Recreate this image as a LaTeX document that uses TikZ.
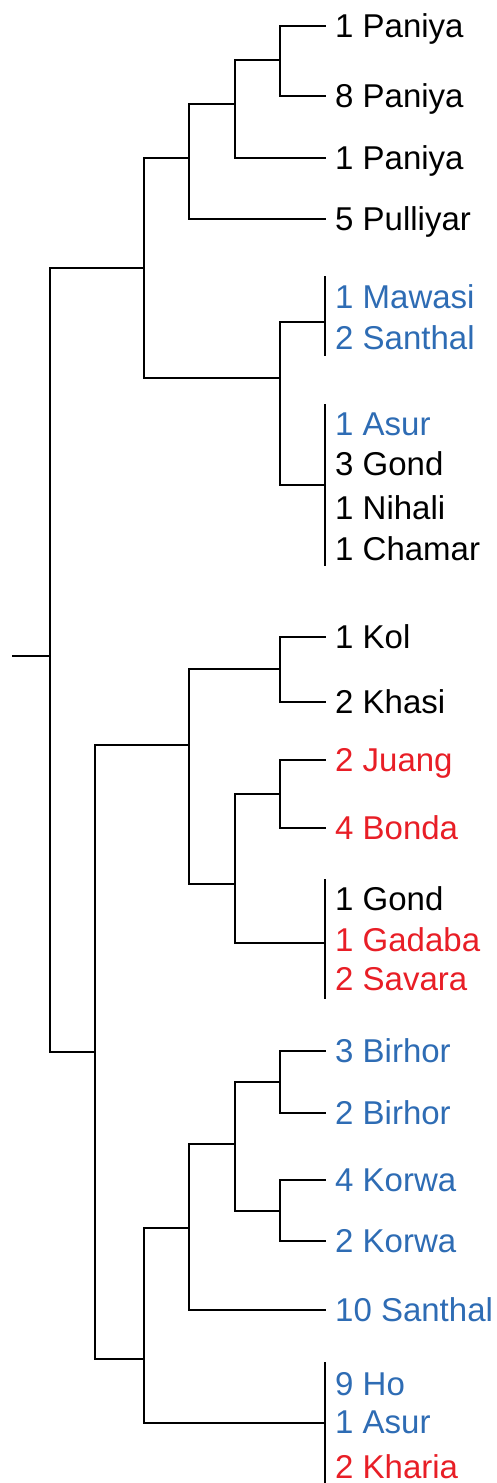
\documentclass[tikz,border=0pt]{standalone}
\usepackage{fontspec}
\setmainfont{Liberation Sans}
\definecolor{tblue}{RGB}{46,108,180}
\definecolor{tred}{RGB}{232,30,38}
\begin{document}
\begin{tikzpicture}[x=1pt,y=-1pt,
  br/.style={line width=2pt, line cap=rect, line join=miter},
  leaf/.style={anchor=west, inner xsep=10pt, inner ysep=0pt, text height=23.5pt, text depth=0pt, font=\fontsize{33}{37}\selectfont},
  bl/.style={leaf, text=tblue},
  rd/.style={leaf, text=tred}]
\useasboundingbox (0,0) rectangle (496,1483);
% internal nodes
\coordinate (stub) at (13,656);
\coordinate (R) at (50,656);
\coordinate (D) at (144,268);
\coordinate (C) at (189,158);
\coordinate (B) at (235,104);
\coordinate (A) at (280,60);
\coordinate (E) at (280,378);
\coordinate (F) at (95,1052);
\coordinate (G) at (189,745);
\coordinate (H) at (280,669);
\coordinate (I) at (235,884);
\coordinate (J) at (280,794);
\coordinate (K) at (144,1359);
\coordinate (L) at (189,1228);
\coordinate (M) at (235,1144);
\coordinate (N) at (280,1082);
\coordinate (O) at (280,1211);
% bars
\coordinate (b1) at (325,322); \coordinate (b1t) at (325,277); \coordinate (b1b) at (325,355);
\coordinate (b2) at (325,485); \coordinate (b2t) at (325,405); \coordinate (b2b) at (325,565);
\coordinate (b3) at (325,943); \coordinate (b3t) at (325,880); \coordinate (b3b) at (325,998);
\coordinate (b4) at (325,1423); \coordinate (b4t) at (325,1363); \coordinate (b4b) at (325,1490);
% leaves
\node[leaf] (p1) at (325,26) {1 Paniya};
\node[leaf] (p8) at (325,96) {8 Paniya};
\node[leaf] (p1b) at (325,158) {1 Paniya};
\node[leaf] (pul) at (325,219) {5 Pulliyar};
\node[bl] (maw) at (325,297) {1 Mawasi};
\node[bl] (san2) at (325,338) {2 Santhal};
\node[bl] (asur1) at (325,424) {1 Asur};
\node[leaf] (gond3) at (325,464) {3 Gond};
\node[leaf] (nih) at (325,508) {1 Nihali};
\node[leaf] (cha) at (325,549) {1 Chamar};
\node[leaf] (kol) at (325,637) {1 Kol};
\node[leaf] (kha) at (325,702) {2 Khasi};
\node[rd] (jua) at (325,760) {2 Juang};
\node[rd] (bon) at (325,828) {4 Bonda};
\node[leaf] (gond1) at (325,899) {1 Gond};
\node[rd] (gad) at (325,940) {1 Gadaba};
\node[rd] (sav) at (325,979) {2 Savara};
\node[bl] (bir3) at (325,1051) {3 Birhor};
\node[bl] (bir2) at (325,1113) {2 Birhor};
\node[bl] (kor4) at (325,1180) {4 Korwa};
\node[bl] (kor2) at (325,1241) {2 Korwa};
\node[bl] (san10) at (325,1310) {10 Santhal};
\node[bl] (ho) at (325,1384) {9 Ho};
\node[bl] (asur2) at (325,1422) {1 Asur};
\node[rd] (khar) at (325,1467) {2 Kharia};
% branches
\draw[br] (stub) -- (R);
\draw[br] (R) |- (D);
\draw[br] (R) |- (F);
\draw[br] (D) |- (C);
\draw[br] (D) |- (E);
\draw[br] (C) |- (B);
\draw[br] (C) |- (pul.west);
\draw[br] (B) |- (A);
\draw[br] (B) |- (p1b.west);
\draw[br] (A) |- (p1.west);
\draw[br] (A) |- (p8.west);
\draw[br] (E) |- (b1);
\draw[br] (E) |- (b2);
\draw[br] (b1t) -- (b1b);
\draw[br] (b2t) -- (b2b);
\draw[br] (F) |- (G);
\draw[br] (F) |- (K);
\draw[br] (G) |- (H);
\draw[br] (G) |- (I);
\draw[br] (H) |- (kol.west);
\draw[br] (H) |- (kha.west);
\draw[br] (I) |- (J);
\draw[br] (I) |- (b3);
\draw[br] (J) |- (jua.west);
\draw[br] (J) |- (bon.west);
\draw[br] (b3t) -- (b3b);
\draw[br] (K) |- (L);
\draw[br] (K) |- (b4);
\draw[br] (b4t) -- (b4b);
\draw[br] (L) |- (M);
\draw[br] (L) |- (san10.west);
\draw[br] (M) |- (N);
\draw[br] (M) |- (O);
\draw[br] (N) |- (bir3.west);
\draw[br] (N) |- (bir2.west);
\draw[br] (O) |- (kor4.west);
\draw[br] (O) |- (kor2.west);
\end{tikzpicture}
\end{document}
